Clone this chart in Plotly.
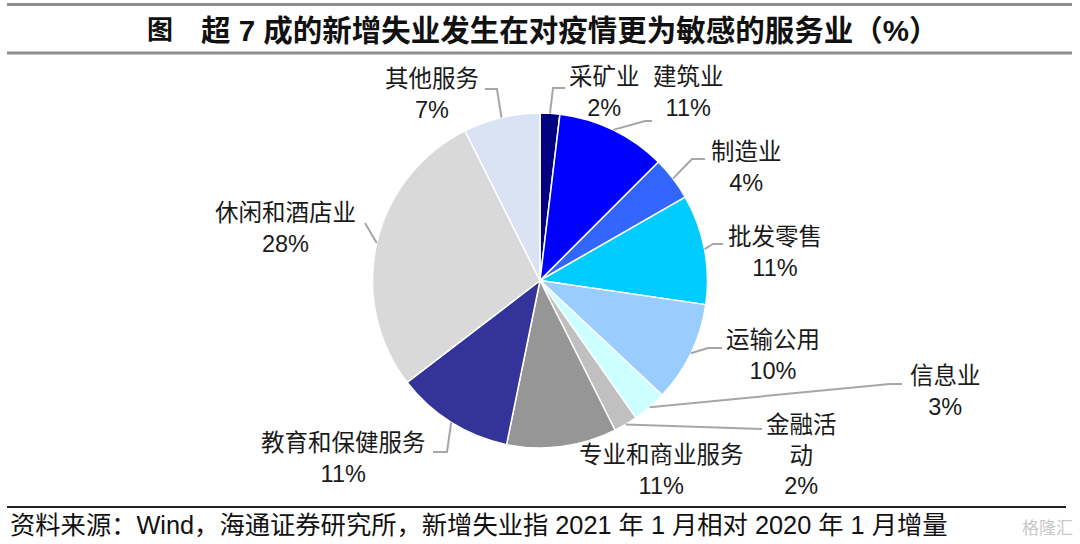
import math
import plotly.graph_objects as go

# ---------------- data ----------------
categories = ["采矿业", "建筑业", "制造业", "批发零售", "运输公用", "信息业",
              "金融活动", "专业和商业服务", "教育和保健服务", "休闲和酒店业", "其他服务"]
shares = [1.9, 10.6, 4.2, 10.6, 9.7, 3.3, 2.3, 10.6, 11.4, 28.0, 7.4]
display_names = ["采矿业", "建筑业", "制造业", "批发零售", "运输公用", "信息业",
                 "金融活<br>动", "专业和商业服务", "教育和保健服务", "休闲和酒店业", "其他服务"]

# ---------------- styles / layout ----------------
colors = ["#000080", "#0000FF", "#3366FF", "#00CCFF", "#99CCFF", "#CCFFFF",
          "#C0C0C0", "#969696", "#333399", "#D9D9D9", "#DAE3F3"]

W, H = 1080, 544
CX, CY, R = 540, 280.5, 167.5

# label block centres (px) and leader-line bends (px), per slice
label_centres = [(604, 93), (688, 93), (746, 167), (775, 252), (773, 355.5), (945, 391),
                 (801, 455), (661, 470.5), (343, 458.5), (285, 229), (432, 94)]
leader_bends = [
    [(553, 88), (565, 88)],
    [(645, 121), (652, 121)],
    [(692, 159), (705, 159)],
    [(713, 244), (723, 244)],
    [(708, 348), (722, 348)],
    [(890, 384), (902, 384)],
    [(762, 429)],
    [],
    [(447, 452), (433, 452)],
    [(365, 223)],
    [(497, 89), (485, 89)],
]


def px(x):
    return x / W


def py(y):
    return 1 - y / H


fig = go.Figure()
fig.add_trace(go.Pie(
    labels=categories,
    values=shares,
    sort=False,
    direction="clockwise",
    rotation=0,
    marker=dict(colors=colors, line=dict(color="white", width=1.5)),
    textinfo="none",
    hoverinfo="label+percent",
    showlegend=False,
    domain=dict(x=[px(CX - R), px(CX + R)], y=[py(CY + R), py(CY - R)]),
))

annotations = []
shapes = []
total = sum(shares)
cum = 0.0
for i, v in enumerate(shares):
    mid = (cum + v / 2) / total * 2 * math.pi
    cum += v
    sx = CX + R * math.sin(mid)
    sy = CY - R * math.cos(mid)
    pts = [(sx, sy)] + leader_bends[i]
    if len(pts) > 1:
        path = "M " + " L ".join(f"{px(x):.5f},{py(y):.5f}" for x, y in pts)
        shapes.append(dict(type="path", xref="paper", yref="paper", path=path,
                           line=dict(color="#A6A6A6", width=2)))
    lx, ly = label_centres[i]
    annotations.append(dict(
        x=px(lx), y=py(ly), xref="paper", yref="paper",
        text=f"{display_names[i]}<br>{round(v / total * 100)}%",
        showarrow=False, xanchor="center", yanchor="middle", align="center",
        font=dict(family="Liberation Sans, Noto Sans CJK SC", size=23.5, color="#1a1a1a"),
    ))

# title
annotations.append(dict(x=px(145), y=py(30), xref="paper", yref="paper", text="<b>图</b>",
                        showarrow=False, xanchor="left", yanchor="middle",
                        font=dict(family="Liberation Sans, Noto Sans CJK SC", size=26, color="#111")))
annotations.append(dict(x=px(199), y=py(30), xref="paper", yref="paper",
                        text="<b>超 7 成的新增失业发生在对疫情更为敏感的服务业（%）</b>",
                        showarrow=False, xanchor="left", yanchor="middle",
                        font=dict(family="Liberation Sans, Noto Sans CJK SC", size=29.5, color="#111")))
# source
annotations.append(dict(x=px(8), y=py(525), xref="paper", yref="paper",
                        text="资料来源：Wind，海通证券研究所，新增失业指 2021 年 1 月相对 2020 年 1 月增量",
                        showarrow=False, xanchor="left", yanchor="middle",
                        font=dict(family="Liberation Sans, Noto Sans CJK SC", size=25.3, color="#111")))
# watermark
annotations.append(dict(x=px(1075), y=py(526), xref="paper", yref="paper", text="格隆汇",
                        showarrow=False, xanchor="right", yanchor="middle",
                        font=dict(family="Noto Sans CJK SC", size=17, color="#C8C8C8")))

# rules
shapes.append(dict(type="line", xref="paper", yref="paper", x0=px(7), x1=px(1072), y0=py(4.5), y1=py(4.5),
                   line=dict(color="#8C8C8C", width=3)))
shapes.append(dict(type="line", xref="paper", yref="paper", x0=px(7), x1=px(1072), y0=py(53), y1=py(53),
                   line=dict(color="#8C8C8C", width=3)))
shapes.append(dict(type="line", xref="paper", yref="paper", x0=px(7), x1=px(1066), y0=py(507), y1=py(507),
                   line=dict(color="#222222", width=2)))

fig.update_layout(
    width=W, height=H,
    margin=dict(l=0, r=0, t=0, b=0),
    paper_bgcolor="white", plot_bgcolor="white",
    annotations=annotations, shapes=shapes,
)

fig.write_html("out.html")
